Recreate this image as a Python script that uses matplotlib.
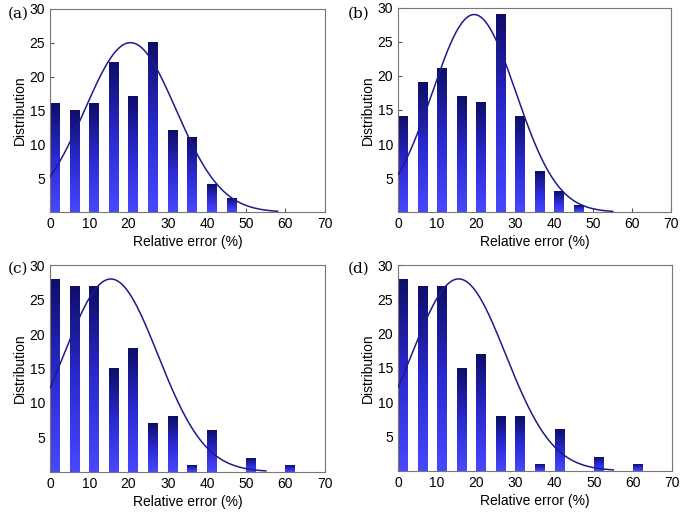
import numpy as np
import matplotlib.pyplot as plt
from matplotlib.colors import LinearSegmentedColormap

# bin left edges (%) and counts per panel
bins_ab = [0, 5, 10, 15, 20, 25, 30, 35, 40, 45]
counts_a = [16, 15, 16, 22, 17, 25, 12, 11, 4, 2]
counts_b = [14, 19, 21, 17, 16, 29, 14, 6, 3, 1]
bins_cd = [0, 5, 10, 15, 20, 25, 30, 35, 40, 45, 50, 55, 60]
counts_c = [28, 27, 27, 15, 18, 7, 8, 1, 6, 0, 2, 0, 1]
counts_d = [28, 27, 27, 15, 17, 8, 8, 1, 6, 0, 2, 0, 1]

# normal fit: centre, sigma, peak, end of curve
fit_a = (20.5, 11.6, 25.0, 58)
fit_b = (19.5, 10.7, 29.0, 55)
fit_c = (15.5, 12.0, 28.0, 55)
fit_d = (15.5, 12.0, 28.0, 55)

panels = [
    ('(a)', bins_ab, counts_a, fit_a, [0.073, 0.588, 0.401, 0.395], (0.027, 0.974)),
    ('(b)', bins_ab, counts_b, fit_b, [0.581, 0.588, 0.399, 0.397], (0.524, 0.974)),
    ('(c)', bins_cd, counts_c, fit_c, [0.073, 0.084, 0.401, 0.401], (0.027, 0.479)),
    ('(d)', bins_cd, counts_d, fit_d, [0.581, 0.086, 0.400, 0.399], (0.524, 0.479)),
]

cmap = LinearSegmentedColormap.from_list('bar', ['#4848ff', '#2a2ad0', '#0e0e68'])
grad = np.linspace(0, 1, 256).reshape(-1, 1)
bar_w = 2.5

fig = plt.figure(figsize=(6.85, 5.15), dpi=100)
plt.rcParams['font.family'] = ['Liberation Sans', 'DejaVu Sans']

for tag, bins, counts, fit, pos, tagpos in panels:
    ax = fig.add_axes(pos)
    for x0, h in zip(bins, counts):
        if h <= 0:
            continue
        ax.imshow(grad, extent=[x0, x0 + bar_w, 0, h], origin='lower',
                  cmap=cmap, aspect='auto', zorder=2)
    mu, sig, amp, xend = fit
    xs = np.linspace(0, xend, 300)
    ax.plot(xs, amp * np.exp(-(xs - mu) ** 2 / (2 * sig ** 2)),
            color='#1c1c8a', lw=1.1, zorder=3)
    ax.set_xlim(0, 70)
    ax.set_ylim(0, 30)
    ax.set_xticks(range(0, 71, 10))
    ax.set_yticks([5, 10, 15, 20, 25, 30])
    ax.tick_params(direction='in', length=3, labelsize=10, color='#555555')
    for s in ax.spines.values():
        s.set_color('#777777')
    ax.set_xlabel('Relative error (%)', fontsize=10, labelpad=3)
    ax.set_ylabel('Distribution', fontsize=10, labelpad=2)
    fig.text(tagpos[0], tagpos[1], tag, family='DejaVu Serif', fontsize=11,
             ha='center', va='center')

fig.savefig('out.png', dpi=100)
